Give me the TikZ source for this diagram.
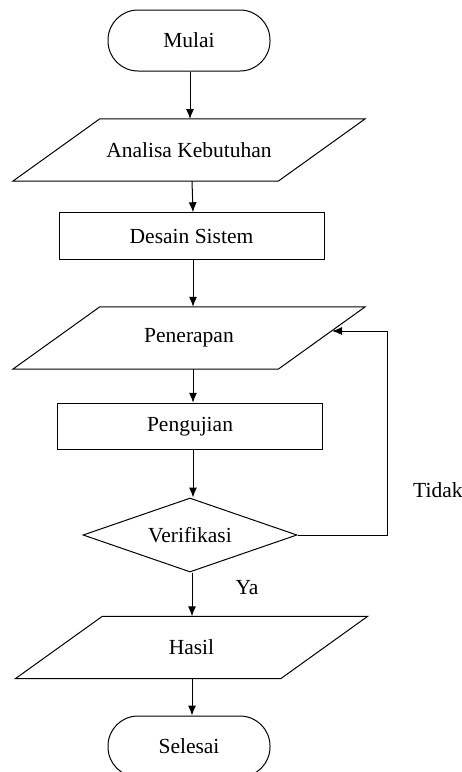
\documentclass[tikz,border=0pt]{standalone}
\usepackage{fontspec}
\setmainfont{Liberation Serif}
\usetikzlibrary{arrows.meta,shapes.geometric,calc}
\begin{document}
\begin{tikzpicture}[x=1pt,y=-1pt,
  every node/.style={font=\fontsize{21.5}{26}\selectfont, inner sep=0pt},
  terminal/.style={draw, line width=1pt, rounded corners=30pt, minimum width=162pt, minimum height=61pt},
  process/.style={draw, line width=1pt, minimum width=265pt, minimum height=46.5pt},
  para/.style={minimum width=352pt, minimum height=62pt},
  decision/.style={draw, line width=1pt, diamond, aspect=2.9, minimum width=214pt, minimum height=74pt},
  arr/.style={line width=1pt, -{Latex[length=10pt,width=8pt]}},
  lbl/.style={font=\fontsize{21.5}{26}\selectfont}]
\useasboundingbox (0,0) rectangle (462,772);
\clip (0,0) rectangle (462,772);

\node[terminal] (mul) at (189,40.5) {Mulai};
\node[para] (ana) at (189,150) {Analisa Kebutuhan};
\node[process] (des) at (191.5,236) {Desain Sistem};
\node[para] (pen) at (189,338) {Penerapan};
\node[process] (uji) at (190,426.5) {Pengujian};
\node[decision] (ver) at (190,535) {Verifikasi};
\node[para] (has) at (191.5,647.5) {Hasil};
\node[terminal] (sel) at (189,746.5) {Selesai};

% parallelogram outlines
\foreach \n in {ana,pen,has}{
  \draw[line width=1pt] ($(\n.north west)+(87,0)$) -- (\n.north east)
     -- ($(\n.south east)+(-87,0)$) -- (\n.south west) -- cycle;
}

\draw[arr] (mul.south -| 190,0) -- (190,119);
\draw[arr] ($(ana.south)+(3,0)$) -- ($(des.north)+(1.5,0)$);
\draw[arr] ($(des.south)+(1.5,0)$) -- ($(pen.north)+(4,0)$);
\draw[arr] ($(pen.south)+(4,0)$) -- ($(uji.north)+(3,0)$);
\draw[arr] ($(uji.south)+(3,0)$) -- ($(ver.north)+(3,0)$);
\draw[arr] ($(ver.south)+(2,0)$) -- ($(has.north)+(0.5,0)$);
\draw[arr] ($(has.south)+(0.5,0)$) -- ($(sel.north)+(3,0)$);

\coordinate (fb) at (387,331);
\coordinate (penR) at (332,331);
\draw[arr] (ver.east) -| (fb) -- (penR);

\node[lbl, anchor=west] (tid) at (413,490) {Tidak};
\node[lbl] (ya) at (247,588) {Ya};
\end{tikzpicture}
\end{document}
